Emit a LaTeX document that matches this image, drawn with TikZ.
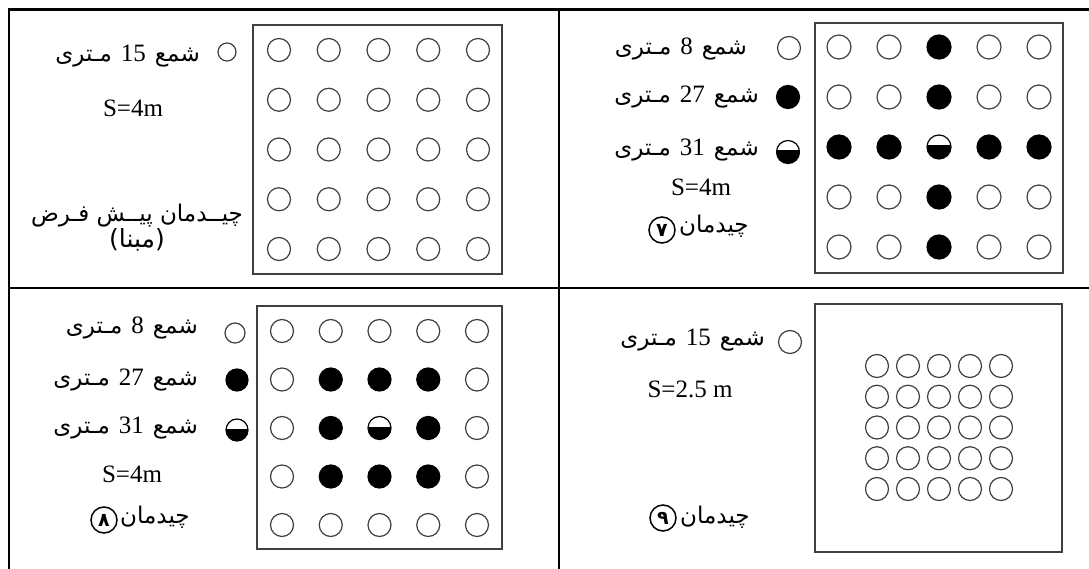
\documentclass[tikz,border=0pt]{standalone}
\usepackage{fontspec}
\setmainfont{Liberation Serif}
\newfontfamily\fa[Script=Arabic]{DejaVu Sans}
\TeXXeTstate=1
\newcommand\lat[1]{{\fontsize{25}{28}\selectfont\rmfamily #1}}
\newcommand\fasz{\fontsize{23}{28}\selectfont}
\newcommand\shmline[1]{{\fasz\fa\beginR شمع\hspace{9pt}\beginL\lat{#1}\endL\hspace{9pt}مـتری\endR}}
\begin{document}
\begin{tikzpicture}[x=1pt,y=-1pt,
  frame/.style={line width=2.4pt,draw=black},
  box/.style={draw=black!75,line width=1.3pt,inner sep=0pt},
  emp/.style={circle,draw=black!75,line width=1.2pt,fill=white,minimum size=#1,inner sep=0pt},
  emp/.default=23pt,
  ful/.style={circle,draw=black,line width=1.2pt,fill=black,minimum size=#1,inner sep=0pt},
  ful/.default=23pt,
  halfc/.style={circle,draw=black,line width=1.2pt,minimum size=#1,inner sep=0pt,
    path picture={\fill[black] ([yshift=1.5pt]path picture bounding box.west) rectangle (path picture bounding box.south east);}},
  halfc/.default=23pt,
  st0/.style={emp=#1}, st1/.style={ful=#1}, st2/.style={halfc=#1},
  num/.style={circle,draw=black,line width=1.5pt,minimum size=26pt,inner sep=0pt,font=\fa\fontsize{19}{19}\selectfont\bfseries},
  txt/.style={inner sep=0pt}
]
\useasboundingbox (0,0) rectangle (1089,569);
\fill[white] (0,0) rectangle (1089,569);
% outer frame
\coordinate (tl) at (9,9.5);
\coordinate (tr) at (1089,9.5);
\coordinate (bl) at (9,569);
\coordinate (ml) at (9,288);
\coordinate (mr) at (1089,288);
\coordinate (mt) at (559,9.5);
\coordinate (mb) at (559,569);
\draw[frame] (tr) -- (tl) -- (bl);
\draw[frame] (ml) -- (mr);
\draw[frame] (mt) -- (mb);

% ---------- Q1 (top-left)
\node[box,minimum width=249pt,minimum height=249pt] (b1) at (377.5,149.5) {};
\foreach \i in {1,...,5}{\foreach \j in {1,...,5}{
  \node[emp] (a-\i-\j) at ({279+(\i-1)*49.75},{50+(\j-1)*49.75}) {};
}}
\node[emp=18pt] (l1) at (227,52) {};
\node[txt,anchor=base east] (t1a) at (200,62) {\shmline{15}};
\node[txt,anchor=base] (t1b) at (133,117) {\lat{S=4m}};
\node[txt,anchor=base] (t1c) at (137,222) {\fasz\fa\beginR چیــدمان پیــش فـرض\endR};
\node[txt,anchor=base] (t1d) at (137,248) {\fontsize{25}{28}\selectfont\fa\beginR (مبنا)\endR};

% ---------- Q2 (top-right)
\node[box,minimum width=248pt,minimum height=250pt] (b2) at (939,148) {};
\foreach \i in {1,...,5}{\foreach \j in {1,...,5}{
  \pgfmathtruncatemacro\k{(\i==3)+(\j==3)}
  \node[st\k=24pt] (c-\i-\j) at ({839+(\i-1)*50},{47+(\j-1)*50}) {};
}}
\node[emp=23pt] (l2a) at (789,48) {};
\node[ful=23pt] (l2b) at (788,97) {};
\node[halfc=23pt] (l2c) at (788,152) {};
\node[txt,anchor=base east] (t2a) at (747,55) {\shmline{8}};
\node[txt,anchor=base east] (t2b) at (759,103) {\shmline{27}};
\node[txt,anchor=base east] (t2c) at (759,156) {\shmline{31}};
\node[txt,anchor=base] (t2d) at (701,196) {\lat{S=4m}};
\node[num] (n7) at (662,230) {۷};
\node[txt,anchor=base west] (t2e) at (679,233) {\fasz\fa\beginR چیدمان\endR};

% ---------- Q3 (bottom-left)
\node[box,minimum width=245pt,minimum height=243pt] (b3) at (379.5,427.5) {};
\foreach \i in {1,...,5}{\foreach \j in {1,...,5}{
  \pgfmathtruncatemacro\k{and(\i>1,\i<5)*and(\j>1,\j<5)*(1+and(\i==3,\j==3))}
  \node[st\k=23pt] (d-\i-\j) at ({282+(\i-1)*48.75},{331+(\j-1)*48.5}) {};
}}
\node[emp=20pt] (l3a) at (235,333) {};
\node[ful=22pt] (l3b) at (237,380) {};
\node[halfc=22pt] (l3c) at (237,430) {};
\node[txt,anchor=base east] (t3a) at (198,333) {\shmline{8}};
\node[txt,anchor=base east] (t3b) at (198,385) {\shmline{27}};
\node[txt,anchor=base east] (t3c) at (198,433) {\shmline{31}};
\node[txt,anchor=base] (t3d) at (132,482) {\lat{S=4m}};
\node[num] (n8) at (104,520) {۸};
\node[txt,anchor=base west] (t3e) at (120,523) {\fasz\fa\beginR چیدمان\endR};

% ---------- Q4 (bottom-right)
\node[box,minimum width=247pt,minimum height=248pt] (b4) at (938.5,428) {};
\foreach \i in {1,...,5}{\foreach \j in {1,...,5}{
  \node[emp] (e-\i-\j) at ({877+(\i-1)*31},{366+(\j-1)*30.75}) {};
}}
\node[emp=23pt] (l4) at (790,342) {};
\node[txt,anchor=base east] (t4a) at (765,345) {\shmline{15}};
\node[txt,anchor=base] (t4b) at (690,397) {\lat{S=2.5 m}};
\node[num] (n9) at (663,518) {۹};
\node[txt,anchor=base west] (t4c) at (680,523) {\fasz\fa\beginR چیدمان\endR};
\end{tikzpicture}
\end{document}
